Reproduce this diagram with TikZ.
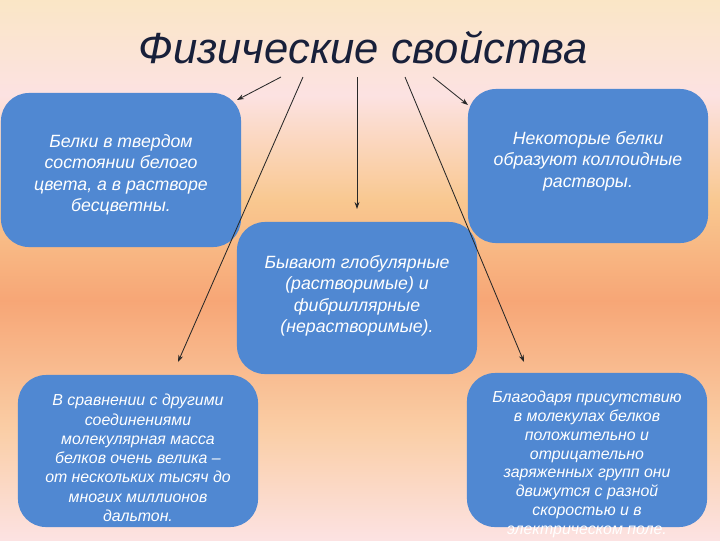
\documentclass[tikz,border=0pt]{standalone}
\usepackage{fontspec}
\setmainfont{Liberation Sans}
\usepackage{xcolor}
\usepackage{tikz}
\usetikzlibrary{arrows.meta}

\definecolor{boxblue}{RGB}{80,136,210}
\definecolor{titleblue}{RGB}{24,32,58}
\definecolor{arrowgray}{RGB}{40,40,40}
\definecolor{bgcream}{RGB}{250,230,198}
\definecolor{bgpink}{RGB}{252,226,226}
\definecolor{bgyellow}{RGB}{249,200,144}
\definecolor{bgorange}{RGB}{247,166,118}
\definecolor{bgpeach}{RGB}{250,206,166}

\tikzset{
  infobox/.style={fill=boxblue, rounded corners=0.7cm, inner sep=0pt,
    minimum width=6cm, minimum height=3.85cm},
  bigtext/.style={text=white, align=center, font=\itshape\fontsize{12.6}{15.2}\selectfont},
  smalltext/.style={text=white, align=center, font=\itshape\fontsize{11.3}{13.7}\selectfont},
  arr/.style={-{Stealth[length=5pt,width=3.5pt]}, arrowgray, line width=0.6pt}
}

\begin{document}
\begin{tikzpicture}[x=0.025cm, y=-0.025cm]
                \useasboundingbox (0,0) rectangle (720,540);
                \clip (0,0) rectangle (720,540);
                
                % Background bands
                \shade[top color=bgcream, bottom color=bgpink] (0,0) rectangle (720,96);
                \shade[top color=bgpink, bottom color=bgyellow] (0,95) rectangle (720,201);
                \shade[top color=bgyellow, bottom color=bgorange] (0,200) rectangle (720,301);
                \shade[top color=bgorange, bottom color=bgpeach] (0,300) rectangle (720,431);
                \shade[top color=bgpeach, bottom color=bgpink] (0,430) rectangle (720,540);
                
                % Title
                \node[anchor=base, titleblue, font=\itshape\fontsize{31}{36}\selectfont] (title) at (363,63) {Физические свойства};
                
                % Boxes
                \node[infobox] (solid) at (121,170) {};
                \node[infobox] (colloid) at (588,166) {};
                \node[infobox, minimum height=3.8cm] (shape) at (357,298) {};
                \node[infobox, minimum height=3.8cm] (mass) at (138,451) {};
                \node[infobox] (charge) at (587,450) {};
                
                % Box texts
                \node[bigtext] (solidtext) at (121,175) {Белки в твердом\\состоянии белого\\цвета, а в растворе\\бесцветны.};
                \node[bigtext] (colloidtext) at (588,161) {Некоторые белки\\образуют коллоидные\\растворы.};
                \node[bigtext] (shapetext) at (357,296) {Бывают глобулярные\\(растворимые) и\\фибриллярные\\(нерастворимые).};
                \node[smalltext] (masstext) at (138,458) {В сравнении с другими\\соединениями\\молекулярная масса\\белков очень велика~--\\от нескольких тысяч до\\многих миллионов\\дальтон.};
                \node[smalltext, anchor=north, font=\itshape\fontsize{11.3}{13.4}\selectfont] (chargetext) at (587,386) {Благодаря присутствию\\в молекулах белков\\положительно и\\отрицательно\\заряженных групп они\\движутся с разной\\скоростью и в\\электрическом поле.};
                
                % Arrow ends
                \coordinate (s1) at (281,77);
                \coordinate (s2) at (303,77);
                \coordinate (s3) at (357,77);
                \coordinate (s4) at (405,77);
                \coordinate (s5) at (433,77);
                \coordinate (e1) at (237,100);
                \coordinate (e2) at (178,362);
                \coordinate (e3) at (357,209);
                \coordinate (e4) at (524,362);
                \coordinate (e5) at (468,105);
                
                % Arrows from title
                \draw[arr] (s1) -- (e1);
                \draw[arr] (s2) -- (e2);
                \draw[arr] (s3) -- (e3);
                \draw[arr] (s4) -- (e4);
                \draw[arr] (s5) -- (e5);
\end{tikzpicture}
\end{document}
